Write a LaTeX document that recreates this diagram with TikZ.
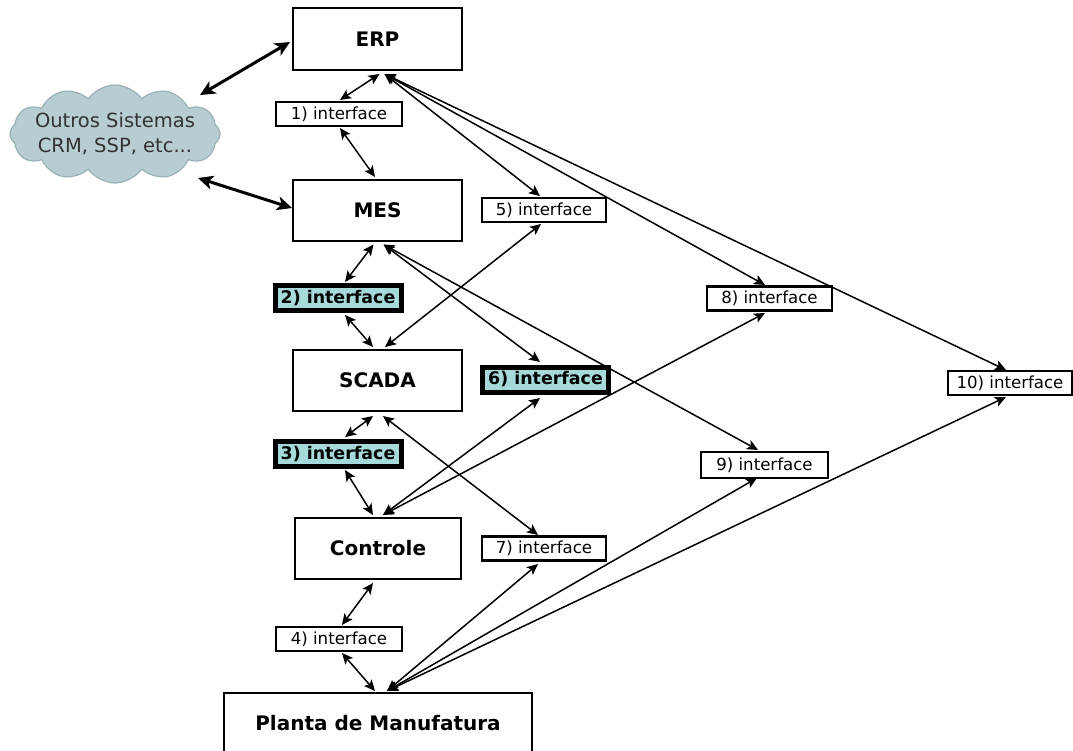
\documentclass[tikz,border=0pt]{standalone}
\usepackage{fontspec}
\setmainfont{DejaVu Sans}
\usetikzlibrary{arrows.meta,shapes.symbols}

\definecolor{cloudfill}{HTML}{B8CDD1}
\definecolor{cloudline}{HTML}{98B1B5}
\definecolor{hilite}{HTML}{A6DADA}

\tikzset{
  layer/.style={draw, line width=2.6pt, fill=white, inner sep=0pt,
    font=\fontsize{20}{24}\selectfont\bfseries},
  iface/.style={draw, line width=2.4pt, fill=white, inner sep=0pt,
    minimum width=124pt, minimum height=24pt,
    font=\fontsize{16.6}{19}\selectfont},
  ifacehi/.style={draw, line width=5pt, fill=hilite, inner sep=0pt,
    minimum width=126pt, minimum height=25pt,
    font=\fontsize{17.4}{20}\selectfont\bfseries},
  link/.style={line width=1.5pt,
    {Stealth[length=11pt,width=10pt,inset=2.5pt]}-{Stealth[length=11pt,width=10pt,inset=2.5pt]}},
  biglink/.style={line width=3pt,
    {Stealth[length=15pt,width=14pt,inset=4pt]}-{Stealth[length=15pt,width=14pt,inset=4pt]}},
}

\begin{document}
\begin{tikzpicture}[x=1pt,y=-1pt]
\useasboundingbox[fill=white] (0,0) rectangle (1073,751);

% automation levels
\node[layer, minimum width=169pt, minimum height=62pt] (erp)    at (377.5,39)  {ERP};
\node[layer, minimum width=169pt, minimum height=61pt] (mes)    at (377.5,210.5) {MES};
\node[layer, minimum width=169pt, minimum height=61pt] (scada)  at (377.5,380.5) {SCADA};
\node[layer, minimum width=166pt, minimum height=61pt] (ctrl)   at (378,548.5) {Controle};
\node[layer, minimum width=308pt, minimum height=62pt, text depth=0pt] (plant) at (378,724) {\raisebox{3pt}{Planta de Manufatura}};

% external systems: cloud outline and its label
\node[cloud, cloud puffs=12, cloud puff arc=110,
      draw=cloudline, fill=cloudfill, line width=1.2pt,
      minimum width=210pt, minimum height=98pt, inner sep=0pt]
  (cloud) at (115,134) {};
\node[align=center, font=\fontsize{19.5}{25}\selectfont, text=black!80]
  (cloudtxt) at (cloud.center) {Outros Sistemas\\CRM, SSP, etc...};

% interfaces
\node[iface, minimum width=126pt]  (i1)  at (339,114)   {1) interface};
\node[ifacehi]                     (i2)  at (338,298)   {2) interface};
\node[ifacehi]                     (i3)  at (338,454)   {3) interface};
\node[iface, minimum width=126pt]  (i4)  at (339,639)   {4) interface};
\node[iface]                       (i5)  at (544,210)   {5) interface};
\node[ifacehi]                     (i6)  at (545.5,379.5) {6) interface};
\node[iface]                       (i7)  at (544,548.5) {7) interface};
\node[iface, minimum width=125pt]  (i8)  at (769.5,298.5) {8) interface};
\node[iface, minimum width=127pt, minimum height=26pt] (i9) at (764.5,465) {9) interface};
\node[iface]                       (i10) at (1010,383)  {10) interface};

% cloud links
\draw[biglink] ([shift={(85,-39)}]cloud.center) -- ([shift={(-87.5,3)}]erp.center);
\draw[biglink] ([shift={(83,44)}]cloud.center) -- ([shift={(-85.5,-2.5)}]mes.center);

% vertical chain
\draw[link] ([shift={(2,35)}]erp.center)    -- ([shift={(1,-14)}]i1.center);
\draw[link] ([shift={(1,14)}]i1.center)     -- ([shift={(-2.5,-33.5)}]mes.center);
\draw[link] ([shift={(-4,34)}]mes.center)   -- ([shift={(7,-16)}]i2.center);
\draw[link] ([shift={(7,17)}]i2.center)     -- ([shift={(-4.5,-33.5)}]scada.center);
\draw[link] ([shift={(-4.5,35.5)}]scada.center) -- ([shift={(7,-17)}]i3.center);
\draw[link] ([shift={(7,16)}]i3.center)     -- ([shift={(-5,-33.5)}]ctrl.center);
\draw[link] ([shift={(-5,34.5)}]ctrl.center) -- ([shift={(3,-14)}]i4.center);
\draw[link] ([shift={(3,14)}]i4.center)     -- ([shift={(-3,-33)}]plant.center);

% links from ERP
\draw[link] ([shift={(7,35)}]erp.center) -- ([shift={(-4,-14)}]i5.center);
\draw[link] ([shift={(7,35)}]erp.center) -- ([shift={(-4.5,-13.5)}]i8.center);
\draw[link] ([shift={(7,35)}]erp.center) -- ([shift={(-4,-13)}]i10.center);

% links from MES
\draw[link] ([shift={(6,34)}]mes.center) -- ([shift={(-5.5,-17.5)}]i6.center);
\draw[link] ([shift={(6,34)}]mes.center) -- ([shift={(-6.5,-15)}]i9.center);

% links into SCADA
\draw[link] ([shift={(-3,14)}]i5.center) -- ([shift={(7.5,-33.5)}]scada.center);
\draw[link] ([shift={(5.5,35.5)}]scada.center) -- ([shift={(-6,-13.5)}]i7.center);

% links from Controle
\draw[link] ([shift={(5,-33.5)}]ctrl.center) -- ([shift={(-5.5,18.5)}]i6.center);
\draw[link] ([shift={(5,-33.5)}]ctrl.center) -- ([shift={(-4.5,14.5)}]i8.center);

% links from the plant
\draw[link] ([shift={(9,-33)}]plant.center) -- ([shift={(-6,15.5)}]i7.center);
\draw[link] ([shift={(9,-33)}]plant.center) -- ([shift={(-7.5,13)}]i9.center);
\draw[link] ([shift={(9,-33)}]plant.center) -- ([shift={(-4,14)}]i10.center);
\end{tikzpicture}
\end{document}
